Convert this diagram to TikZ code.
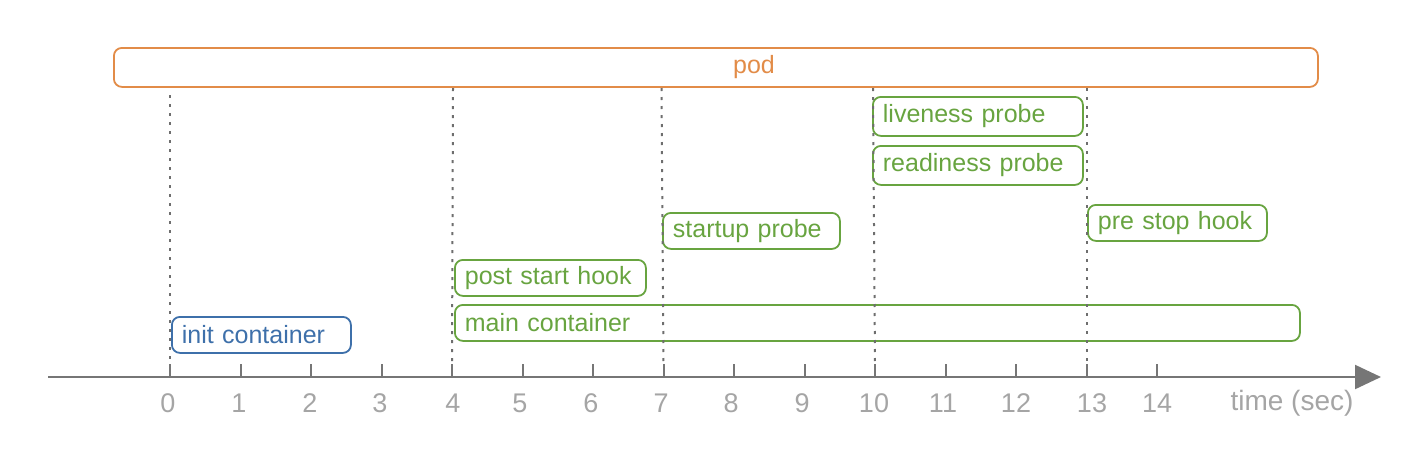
\documentclass[tikz,border=0pt]{standalone}
\usepackage{fontspec}
\setmainfont{Liberation Sans}
\usetikzlibrary{arrows.meta}
\definecolor{podc}{RGB}{226,140,72}
\definecolor{grn}{RGB}{104,164,64}
\definecolor{blu}{RGB}{62,112,170}
\definecolor{axc}{RGB}{118,118,118}
\definecolor{lblc}{RGB}{165,165,165}
\definecolor{dotc}{RGB}{110,110,110}
\begin{document}
\begin{tikzpicture}[x=1pt,y=-1pt,
  bar/.style={draw, rounded corners=8pt, line width=1.8pt, anchor=north west,
    inner xsep=10pt, inner ysep=0pt, align=left, font=\fontsize{25}{28}\selectfont},
  greenbar/.style={bar, draw=grn, text=grn},
  vdots/.style={draw=dotc, line width=2pt, dash pattern=on 3pt off 6pt},
  tickmk/.style={draw=axc, line width=2pt},
  num/.style={text=lblc, font=\fontsize{27}{30}\selectfont, anchor=center, inner sep=0pt}]
\useasboundingbox (0,0) rectangle (1426,451);
% pod
\node[bar, draw=podc, minimum width=1204pt, minimum height=39pt, text width=1184pt] (pod) at (113,47) {};
\node[text=podc, font=\fontsize{25}{28}\selectfont, inner sep=0pt] (podlbl) at (754,67) {pod};
% boxes
\node[bar, draw=blu, text=blu, minimum width=179pt, minimum height=36pt, text width=159pt] (init) at (171,316) {\raisebox{-2pt}{init container}};
\node[greenbar, minimum width=845pt, minimum height=36pt, text width=825pt] (main) at (454,304) {\raisebox{-2pt}{main container}};
\node[greenbar, minimum width=191pt, minimum height=36pt, text width=171pt] (post) at (454,259) {\raisebox{-2pt}{post start hook}};
\node[greenbar, minimum width=177pt, minimum height=36pt, text width=157pt] (startup) at (662,212) {\raisebox{-2pt}{startup probe}};
\node[greenbar, minimum width=210pt, minimum height=39pt, text width=190pt] (live) at (872,96) {\raisebox{-2pt}{liveness probe}};
\node[greenbar, minimum width=210pt, minimum height=39pt, text width=190pt] (ready) at (872,145) {\raisebox{-2pt}{readiness probe}};
\node[greenbar, minimum width=179pt, minimum height=36pt, text width=159pt] (prestop) at (1087,204) {\raisebox{-2pt}{pre stop hook}};
% axis
\coordinate (axs) at (48,377);
\coordinate (axe) at (1381,377);
\draw[draw=axc, line width=2.2pt, -{Triangle[length=26pt,width=24pt]}] (axs) -- (axe);
% ticks and labels
\foreach \i in {0,...,14} {
  \coordinate (t\i) at ({170+70.5*\i},377);
  \coordinate (tt\i) at ({170+70.5*\i},364);
  \draw[tickmk] (t\i) -- (tt\i);
}
\foreach \i/\x in {0/168,1/239,2/310,3/380,4/453,5/520,6/591,7/661,8/731,9/802,10/874,11/943,12/1016,13/1092,14/1157} {
  \node[num] (n\i) at (\x,403) {\i};
}
\node[num, font=\fontsize{28}{30}\selectfont] (tlab) at (1292,403) {time (sec)};
% dotted verticals
\coordinate (d0) at (170,95);
\coordinate (d4) at (453,88);
\coordinate (d7) at (661.5,88);
\coordinate (d10) at (873,88);
\coordinate (d13) at (1086.5,88);
\draw[vdots] (d0) -- (tt0);
\draw[vdots] (d4) -- (tt4);
\draw[vdots] (d7) -- (tt7);
\draw[vdots] (d10) -- (tt10);
\draw[vdots] (d13) -- (tt13);
\end{tikzpicture}
\end{document}
